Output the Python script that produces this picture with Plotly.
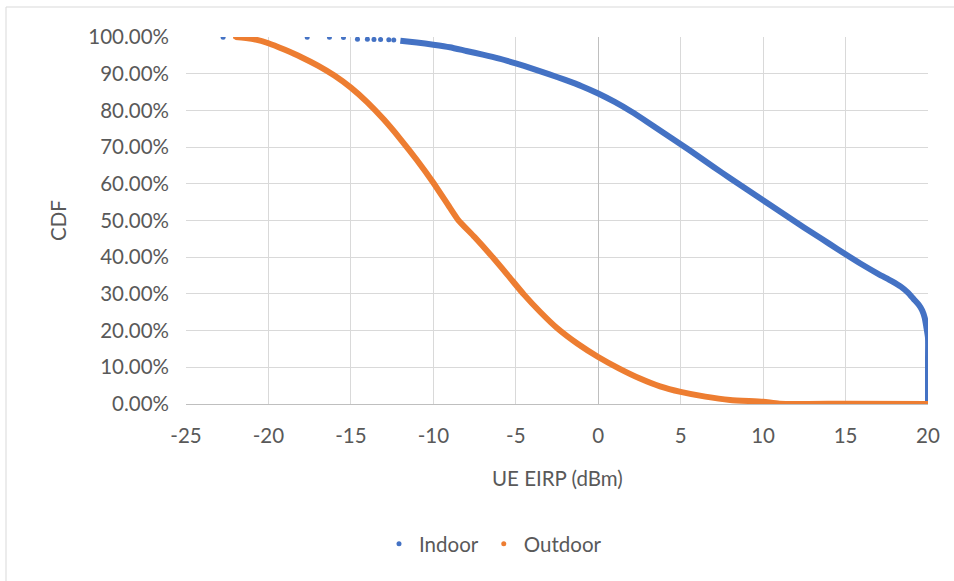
import plotly.graph_objects as go

# UE EIRP (dBm) vs CDF, indoor users
indoor_sparse_x = [-22.75, -17.65, -16.3, -15.45, -14.6, -14.0, -13.6, -13.2, -12.7, -12.4]
indoor_sparse_y = [0.9995, 0.999, 0.999, 0.9985, 0.994, 0.994, 0.9935, 0.993, 0.9925, 0.992]
indoor_x = [-12.0, -11.0, -10.0, -9.0, -8.0, -7.0, -6.0, -5.0, -4.0, -3.0, -2.0, -1.0,
            0.0, 1.0, 2.0, 3.0, 4.0, 5.0, 6.0, 7.0, 8.0, 9.0, 10.0, 11.0, 12.0, 13.0,
            14.0, 15.0, 16.0, 17.0, 17.8, 18.35, 18.8, 19.15, 19.45, 19.65, 19.8, 19.9,
            20.0, 20.0, 20.0, 20.0]
indoor_y = [0.990, 0.985, 0.979, 0.972, 0.962, 0.952, 0.941, 0.928, 0.914, 0.899, 0.883, 0.866,
            0.846, 0.823, 0.797, 0.768, 0.738, 0.708, 0.677, 0.646, 0.615, 0.585, 0.555, 0.525,
            0.495, 0.466, 0.437, 0.408, 0.380, 0.354, 0.335, 0.320, 0.303, 0.285, 0.270, 0.255,
            0.235, 0.210, 0.18, 0.12, 0.06, 0.0]

# UE EIRP (dBm) vs CDF, outdoor users
outdoor_x = [-22.0, -21.0, -20.0, -19.0, -18.0, -17.0, -16.0, -15.0, -14.0, -13.0, -12.0,
             -11.0, -10.0, -9.0, -8.5, -7.5, -6.5, -5.5, -4.5, -3.5, -2.5, -1.25, 0.0,
             1.25, 2.5, 3.75, 5.0, 6.5, 8.0, 10.0, 11.0, 15.0, 20.0]
outdoor_y = [1.0, 0.995, 0.983, 0.965, 0.945, 0.922, 0.895, 0.862, 0.822, 0.775, 0.722,
             0.665, 0.603, 0.535, 0.502, 0.455, 0.405, 0.352, 0.298, 0.250, 0.207, 0.164, 0.128,
             0.097, 0.070, 0.048, 0.033, 0.020, 0.011, 0.006, 0.001, 0.0005, 0.0]

x_ticks = [-25, -20, -15, -10, -5, 0, 5, 10, 15, 20]
x_tick_text = ["-25", "-20", "-15", "-10", "-5", "0", "5", "10", "15", "20"]
y_ticks = [0, 0.1, 0.2, 0.3, 0.4, 0.5, 0.6, 0.7, 0.8, 0.9, 1.0]

BLUE = "#4472C4"
ORANGE = "#ED7D31"
TEXT = "#595959"
GRID = "#d9d9d9"
FONT = "Lato"
FS = 20.5

fig = go.Figure()

# dense parts of the curves drawn as thick lines under the markers
fig.add_trace(go.Scatter(x=indoor_x, y=indoor_y, mode="lines",
                         line=dict(color=BLUE, width=6, shape="spline", smoothing=0.6),
                         showlegend=False, legendgroup="in", hoverinfo="skip"))
fig.add_trace(go.Scatter(x=outdoor_x, y=outdoor_y, mode="lines",
                         line=dict(color=ORANGE, width=6, shape="spline", smoothing=0.6),
                         showlegend=False, legendgroup="out", hoverinfo="skip"))

fig.add_trace(go.Scatter(x=indoor_sparse_x, y=indoor_sparse_y, mode="markers", name="Indoor",
                         marker=dict(color=BLUE, size=5), legendgroup="in"))
fig.add_trace(go.Scatter(x=outdoor_x[:3], y=outdoor_y[:3], mode="markers", name="Outdoor",
                         marker=dict(color=ORANGE, size=5), legendgroup="out"))

L, R, T, B = 186, 954 - 928, 37, 581 - 404
pw, ph = 954 - L - R, 581 - T - B

def px_x(p):
    return (p - L) / pw

def px_y(p):
    return (581 - B - p) / ph

fig.update_layout(
    width=954, height=581,
    margin=dict(l=L, r=R, t=T, b=B),
    paper_bgcolor="white", plot_bgcolor="white",
    font=dict(family=FONT, color=TEXT, size=FS),
    xaxis=dict(range=[-25, 20], tickvals=x_ticks, ticktext=x_tick_text, showgrid=True,
               gridcolor=GRID, gridwidth=1,
               zeroline=True, zerolinecolor="#bfbfbf", zerolinewidth=1,
               showline=True, linecolor="#bfbfbf", linewidth=1,
               ticks="", ticklabelstandoff=13, tickfont=dict(size=FS, color=TEXT)),
    yaxis=dict(range=[0, 1], tickvals=y_ticks, tickformat=".2%", showgrid=True,
               gridcolor=GRID, gridwidth=1, zeroline=False,
               ticks="", ticklabelstandoff=16, tickfont=dict(size=FS, color=TEXT)),
    legend=dict(orientation="h", x=px_x(493), y=px_y(544), xanchor="center", yanchor="middle",
                font=dict(size=FS, color=TEXT), itemsizing="trace", bgcolor="rgba(0,0,0,0)"),
    showlegend=True,
)

fig.add_annotation(text="UE EIRP (dBm)", x=px_x(557), y=px_y(478), xref="paper", yref="paper",
                   showarrow=False, xanchor="center", yanchor="middle",
                   font=dict(size=FS, color=TEXT))
fig.add_annotation(text="CDF", x=px_x(58), y=px_y(221), xref="paper", yref="paper",
                   showarrow=False, textangle=-90, xanchor="center", yanchor="middle",
                   font=dict(size=FS, color=TEXT))

# chart area border (left and top edges)
fig.add_shape(type="line", xref="paper", yref="paper", x0=px_x(6), x1=px_x(6),
              y0=px_y(7), y1=px_y(600), line=dict(color=GRID, width=1))
fig.add_shape(type="line", xref="paper", yref="paper", x0=px_x(6), x1=px_x(980),
              y0=px_y(7), y1=px_y(7), line=dict(color=GRID, width=1))

fig.write_html("out.html")
